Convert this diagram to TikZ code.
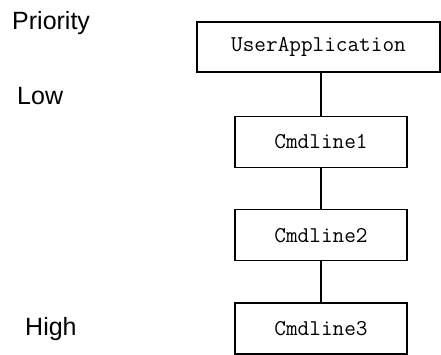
\documentclass[tikz,border=0pt]{standalone}
\usepackage{fontspec}
\setmainfont{Liberation Sans}
\usetikzlibrary{positioning}
\tikzset{
  prog/.style={draw=black, line width=1.3pt, minimum width=172pt, minimum height=51pt, inner sep=0pt, align=center, font=\ttfamily\fontsize{22.6}{26}\selectfont},
  app/.style={prog, minimum width=243pt, minimum height=50pt},
  lvl/.style={anchor=base west, inner sep=0pt, font=\fontsize{25}{29}\selectfont},
  link/.style={line width=1.3pt, draw=black}
}
\begin{document}
\begin{tikzpicture}[x=1pt, y=-1pt, node distance=41pt]
  \useasboundingbox (0,0) rectangle (441,354);
  \node[lvl] (prio) at (12,29) {Priority};
  \node[lvl] (low) at (17,104) {Low};
  \node[lvl] (high) at (25,335) {High};

  \node[app] (ua) at (318.5,47) {UserApplication};
  \node[prog] (c1) at (321,142) {Cmdline1};
  \node[prog, below=of c1] (c2) {Cmdline2};
  \node[prog, below=of c2] (c3) {Cmdline3};

  \draw[link] (c1.north |- ua.south) -- (c1.north);
  \draw[link] (c1) -- (c2);
  \draw[link] (c2) -- (c3);
\end{tikzpicture}
\end{document}
